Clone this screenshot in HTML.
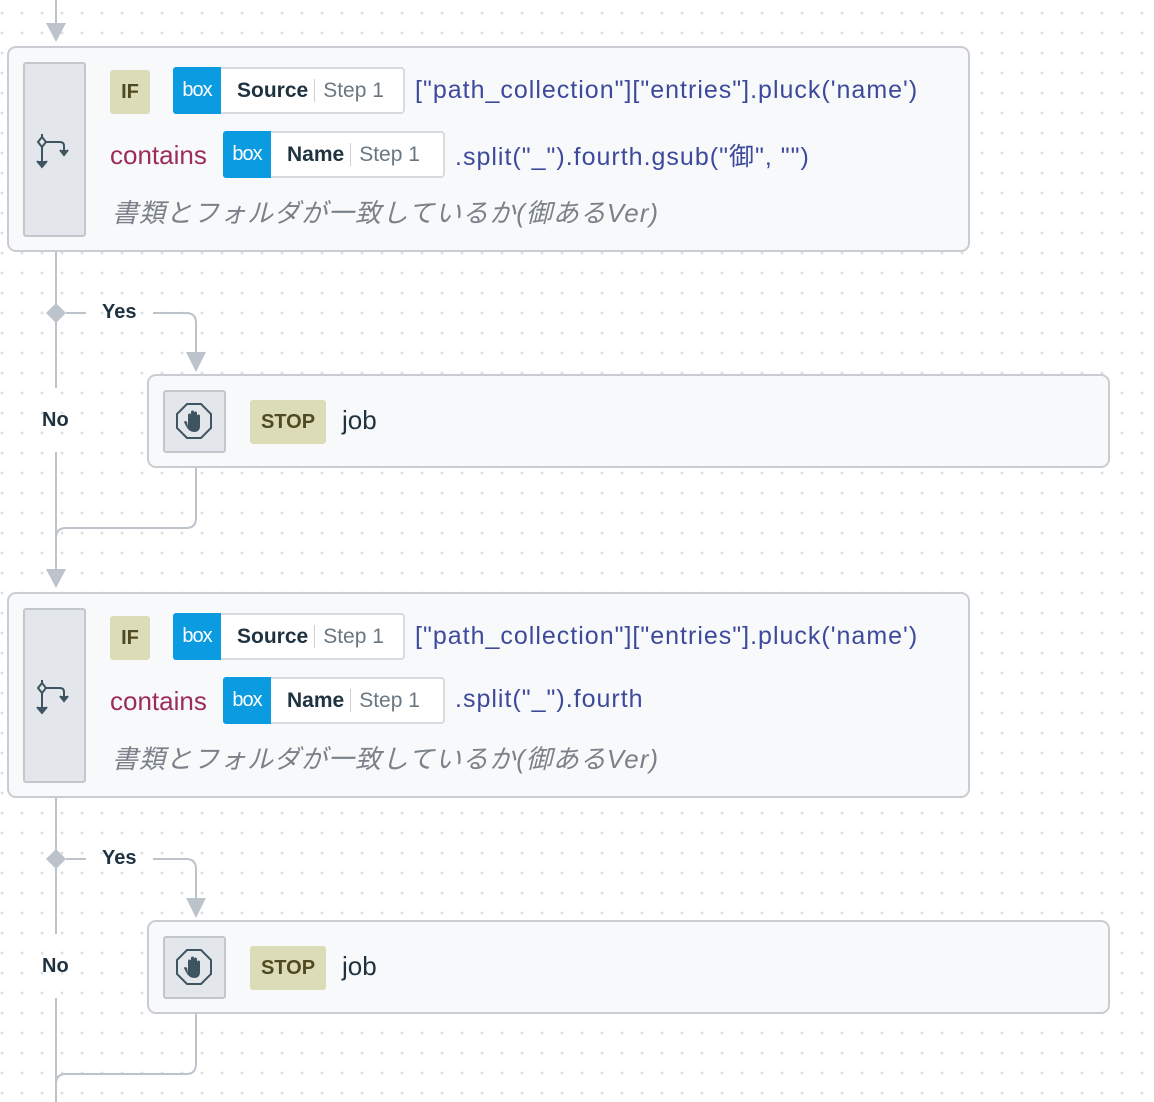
<!DOCTYPE html>
<html><head><meta charset="utf-8"><style>
body{margin:0;width:1154px;height:1102px;overflow:hidden;position:relative;background-color:#fff;
background-image:radial-gradient(circle,#dde0e3 1.3px,transparent 1.6px);background-size:20px 20px;background-position:12px 3px;
font-family:"Liberation Sans","Noto Sans CJK JP",sans-serif;}
.card{position:absolute;background:#f8f9fb;border:2px solid #c9cdd2;border-radius:9px;box-sizing:border-box}
.icon{position:absolute;background:#e3e6ea;border:2px solid #c2c7cc;border-radius:3px;box-sizing:border-box}
.abs{position:absolute;white-space:nowrap}
.if{background:#dcdcb8;color:#4f4a22;font-weight:bold;font-size:20px;border-radius:3px;text-align:center;box-sizing:border-box}
.pill{position:absolute;height:47px;border:2px solid #d8dce0;border-radius:4px;background:#fff;box-sizing:border-box}
.bx{position:absolute;left:-2px;top:-2px;width:48px;height:47px;background:#0b9be0;color:#fff;font-size:20px;line-height:47px;text-align:center;border-radius:3px 0 0 3px;letter-spacing:-1px}
.pt{position:absolute;left:62px;top:0;line-height:43px;font-size:21px;color:#1f3240;font-weight:bold}
.pt span{font-weight:normal;color:#6b7780;border-left:1px solid #ccd0d4;padding-left:8px;margin-left:6px}
.code{color:#3d4a9c;font-size:25px;letter-spacing:1px}
.ct{color:#9b2c5b;font-size:26px}
.jp{color:#7a8188;font-size:26px;font-style:italic;letter-spacing:1px}
.lbl{font-weight:bold;font-size:20px;color:#1f3240}
</style></head><body>
<svg width="1154" height="1102" style="position:absolute;left:0;top:0" fill="none" stroke="#bcc3ca" stroke-width="2">
<line x1="56" y1="0" x2="56" y2="26"/><polygon points="46,23 66,23 56,42" fill="#bcc3ca" stroke="none"/>
<g id="g1">
<line x1="56" y1="251" x2="56" y2="388"/>
<polygon points="56,303 66,313 56,323 46,313" fill="#bcc3ca" stroke="none"/>
<line x1="66" y1="313" x2="86" y2="313"/>
<path d="M153 313 H186 Q196 313 196 323 V355"/>
<polygon points="186,352 206,352 196,372" fill="#bcc3ca" stroke="none"/>
<line x1="56" y1="452" x2="56" y2="572"/>
<path d="M196 467 V518 Q196 528 186 528 H66 Q56 528 56 538"/>
<polygon points="46,569 66,569 56,588" fill="#bcc3ca" stroke="none"/>
</g>
<g transform="translate(0,546)">
<line x1="56" y1="251" x2="56" y2="388"/>
<polygon points="56,303 66,313 56,323 46,313" fill="#bcc3ca" stroke="none"/>
<line x1="66" y1="313" x2="86" y2="313"/>
<path d="M153 313 H186 Q196 313 196 323 V355"/>
<polygon points="186,352 206,352 196,372" fill="#bcc3ca" stroke="none"/>
<line x1="56" y1="452" x2="56" y2="560"/>
<path d="M196 467 V518 Q196 528 186 528 H66 Q56 528 56 538"/>
</g>
</svg>

<!-- Block 1 -->
<div class="card" style="left:7px;top:46px;width:963px;height:206px"></div>
<div class="icon" style="left:23px;top:62px;width:63px;height:175px"></div>
<svg class="abs" style="left:34px;top:128px" width="40" height="44" fill="none" stroke="#3f5461" stroke-width="2"><path d="M8 6 V38"/><path d="M3 33 L8 39 L13 33" fill="#3f5461"/><path d="M8 14 H26 Q30 14 30 18 V24"/><path d="M26 22 L30 27 L34 22" fill="#3f5461"/><polygon points="8,9 12,14 8,19 4,14" fill="#e3e6ea"/></svg>
<div class="abs if" style="left:110px;top:70px;width:40px;height:44px;line-height:44px">IF</div>
<div class="pill" style="left:173px;top:67px;width:232px"><div class="bx">box</div><div class="pt">Source<span>Step 1</span></div></div>
<div class="abs code" style="left:415px;top:76px">["path_collection"]["entries"].pluck('name')</div>
<div class="abs ct" style="left:110px;top:140px">contains</div>
<div class="pill" style="left:223px;top:131px;width:222px"><div class="bx">box</div><div class="pt">Name<span>Step 1</span></div></div>
<div class="abs code" style="left:455px;top:137px">.split("_").fourth.gsub("御", "")</div>
<div class="abs jp" style="left:112px;top:193px">書類とフォルダが一致しているか(御あるVer)</div>
<div class="abs lbl" style="left:102px;top:301px">Yes</div>
<div class="abs lbl" style="left:42px;top:409px">No</div>
<div class="card" style="left:147px;top:374px;width:963px;height:94px"></div>
<div class="icon" style="left:163px;top:390px;width:63px;height:63px"></div>
<svg class="abs" style="left:174px;top:401px" width="40" height="40"><polygon points="13,3 27,3 37,13 37,27 27,37 13,37 3,27 3,13" fill="none" stroke="#3f5461" stroke-width="2"/><path d="M14 26 V14 a1.5 1.5 0 0 1 3 0 V19 V11 a1.5 1.5 0 0 1 3 0 V19 V12 a1.5 1.5 0 0 1 3 0 V20 V15 a1.5 1.5 0 0 1 3 0 V25 Q26 31 20 31 Q15 31 12 25 L10 21 Q11 19 13 21 Z" fill="#3f5461"/></svg>
<div class="abs if" style="left:250px;top:400px;width:76px;height:44px;line-height:44px">STOP</div>
<div class="abs" style="left:342px;top:405px;font-size:26px;color:#1f3240">job</div>

<!-- Block 2 -->
<div class="card" style="left:7px;top:592px;width:963px;height:206px"></div>
<div class="icon" style="left:23px;top:608px;width:63px;height:175px"></div>
<svg class="abs" style="left:34px;top:674px" width="40" height="44" fill="none" stroke="#3f5461" stroke-width="2"><path d="M8 6 V38"/><path d="M3 33 L8 39 L13 33" fill="#3f5461"/><path d="M8 14 H26 Q30 14 30 18 V24"/><path d="M26 22 L30 27 L34 22" fill="#3f5461"/><polygon points="8,9 12,14 8,19 4,14" fill="#e3e6ea"/></svg>
<div class="abs if" style="left:110px;top:616px;width:40px;height:44px;line-height:44px">IF</div>
<div class="pill" style="left:173px;top:613px;width:232px"><div class="bx">box</div><div class="pt">Source<span>Step 1</span></div></div>
<div class="abs code" style="left:415px;top:622px">["path_collection"]["entries"].pluck('name')</div>
<div class="abs ct" style="left:110px;top:686px">contains</div>
<div class="pill" style="left:223px;top:677px;width:222px"><div class="bx">box</div><div class="pt">Name<span>Step 1</span></div></div>
<div class="abs code" style="left:455px;top:685px">.split("_").fourth</div>
<div class="abs jp" style="left:112px;top:739px">書類とフォルダが一致しているか(御あるVer)</div>
<div class="abs lbl" style="left:102px;top:847px">Yes</div>
<div class="abs lbl" style="left:42px;top:955px">No</div>
<div class="card" style="left:147px;top:920px;width:963px;height:94px"></div>
<div class="icon" style="left:163px;top:936px;width:63px;height:63px"></div>
<svg class="abs" style="left:174px;top:947px" width="40" height="40"><polygon points="13,3 27,3 37,13 37,27 27,37 13,37 3,27 3,13" fill="none" stroke="#3f5461" stroke-width="2"/><path d="M14 26 V14 a1.5 1.5 0 0 1 3 0 V19 V11 a1.5 1.5 0 0 1 3 0 V19 V12 a1.5 1.5 0 0 1 3 0 V20 V15 a1.5 1.5 0 0 1 3 0 V25 Q26 31 20 31 Q15 31 12 25 L10 21 Q11 19 13 21 Z" fill="#3f5461"/></svg>
<div class="abs if" style="left:250px;top:946px;width:76px;height:44px;line-height:44px">STOP</div>
<div class="abs" style="left:342px;top:951px;font-size:26px;color:#1f3240">job</div>
</body></html>
